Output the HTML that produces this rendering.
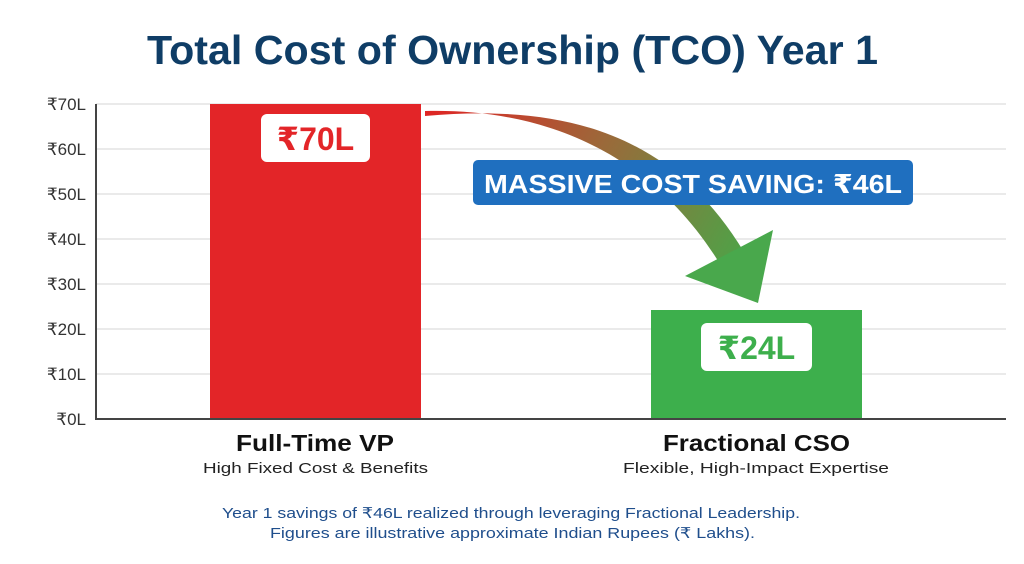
<!DOCTYPE html>
<html><head><meta charset="utf-8"><style>
body{margin:0;background:#fff;width:1024px;height:559px;overflow:hidden;font-family:"Liberation Sans","DejaVu Sans",sans-serif}
</style></head><body>
<svg width="1024" height="559" viewBox="0 0 1024 559" xmlns="http://www.w3.org/2000/svg" font-family="Liberation Sans, DejaVu Sans, sans-serif">
<defs>
<linearGradient id="ag" x1="425" y1="113" x2="760" y2="300" gradientUnits="userSpaceOnUse">
<stop offset="0" stop-color="#e02424"/><stop offset="0.45" stop-color="#9a6a3a"/><stop offset="1" stop-color="#3fae4a"/>
</linearGradient>
</defs>
<text x="147" y="64" textLength="731" lengthAdjust="spacingAndGlyphs" font-size="41" font-weight="bold" fill="#0f3d66">Total Cost of Ownership (TCO) Year 1</text>
<g stroke="#d4d4d4" stroke-width="1">
<line x1="96" y1="104" x2="1006" y2="104"/><line x1="96" y1="149" x2="1006" y2="149"/>
<line x1="96" y1="194" x2="1006" y2="194"/><line x1="96" y1="239" x2="1006" y2="239"/>
<line x1="96" y1="284" x2="1006" y2="284"/><line x1="96" y1="329" x2="1006" y2="329"/>
<line x1="96" y1="374" x2="1006" y2="374"/>
</g>
<g font-size="17" fill="#333" text-anchor="end">
<text x="86" y="110">₹70L</text><text x="86" y="155">₹60L</text><text x="86" y="200">₹50L</text>
<text x="86" y="245">₹40L</text><text x="86" y="290">₹30L</text><text x="86" y="335">₹20L</text>
<text x="86" y="380">₹10L</text><text x="86" y="425">₹0L</text>
</g>
<rect x="210" y="104" width="211" height="315" fill="#e32528"/>
<rect x="651" y="310" width="211" height="109" fill="#3daf4c"/>
<line x1="96" y1="104" x2="96" y2="420" stroke="#444" stroke-width="2"/>
<line x1="95" y1="419" x2="1006" y2="419" stroke="#444" stroke-width="2"/>
<path d="M425 111 C540 108 650 150 720 264 L744 252 C670 130 560 104 425 116 Z" fill="url(#ag)"/>
<polygon points="685,276 773,230 758,303" fill="#49a84c"/>
<rect x="261" y="114" width="109" height="48" rx="6" fill="#fff"/>
<text x="315.5" y="150" text-anchor="middle" font-size="32" font-weight="bold" fill="#e32528">₹70L</text>
<rect x="701" y="323" width="111" height="48" rx="6" fill="#fff"/>
<text x="756.5" y="359" text-anchor="middle" font-size="32" font-weight="bold" fill="#3daf4c">₹24L</text>
<rect x="473" y="160" width="440" height="45" rx="5" fill="#1f6fbf"/>
<text x="484" y="193" textLength="418" lengthAdjust="spacingAndGlyphs" font-size="26" font-weight="bold" fill="#fff">MASSIVE COST SAVING: ₹46L</text>
<text x="236" y="451" textLength="158" lengthAdjust="spacingAndGlyphs" font-size="23" font-weight="bold" fill="#111">Full-Time VP</text>
<text x="203" y="473" textLength="225" lengthAdjust="spacingAndGlyphs" font-size="15" fill="#222">High Fixed Cost &amp; Benefits</text>
<text x="663" y="451" textLength="187" lengthAdjust="spacingAndGlyphs" font-size="23" font-weight="bold" fill="#111">Fractional CSO</text>
<text x="623" y="473" textLength="266" lengthAdjust="spacingAndGlyphs" font-size="15" fill="#222">Flexible, High-Impact Expertise</text>
<text x="222" y="518" textLength="578" lengthAdjust="spacingAndGlyphs" font-size="15" fill="#1f4e8c">Year 1 savings of ₹46L realized through leveraging Fractional Leadership.</text>
<text x="270" y="538" textLength="485" lengthAdjust="spacingAndGlyphs" font-size="15" fill="#1f4e8c">Figures are illustrative approximate Indian Rupees (₹ Lakhs).</text>
</svg>
</body></html>
